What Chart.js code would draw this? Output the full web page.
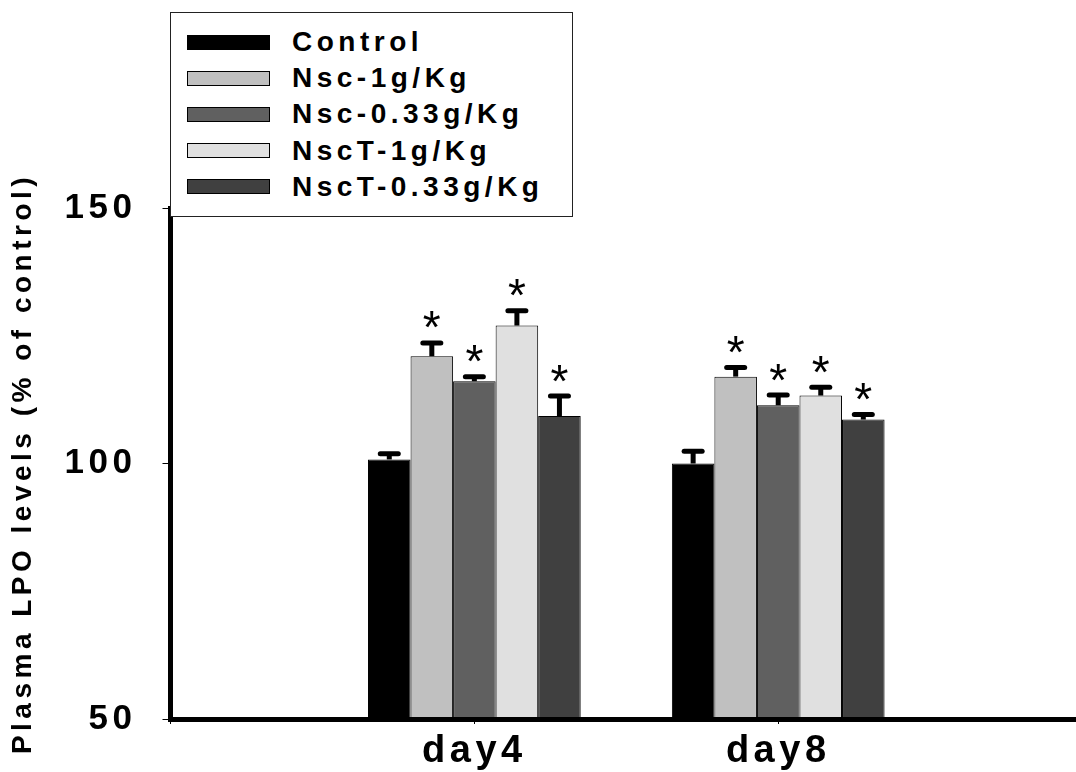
<!DOCTYPE html>
<html>
<head>
<meta charset="utf-8">
<script src="https://cdn.jsdelivr.net/npm/chart.js@4.4.1/dist/chart.umd.min.js"></script>
<style>
  body { margin: 0; background: #fff; }
  #wrap { position: relative; width: 1076px; height: 772px; }
  #legend {
    position: absolute; left: 170px; top: 12px; width: 403px; height: 205px;
    border: 1px solid #222; background: #fff; box-sizing: border-box;
  }
  .item { position: absolute; left: 16px; height: 36px; display: flex; align-items: center; }
  .swatch { width: 83px; height: 15px; border: 1px solid #000; box-sizing: border-box; }
  .label {
    margin-left: 22px; color: #000; white-space: nowrap;
    font: bold 28px "Liberation Sans", Arial, sans-serif; letter-spacing: 4.5px;
  }
</style>
</head>
<body>
<div id="wrap">
  <canvas id="lpoChart" width="1076" height="772"></canvas>
  <div id="legend"></div>
</div>
<script>
// data
const dayLabels = ['', 'day4', 'day8'];
const dayPositions = [0, 1, 2];
const yTicks = [50, 100, 150];
const groupNames = ['Control', 'Nsc-1g/Kg', 'Nsc-0.33g/Kg', 'NscT-1g/Kg', 'NscT-0.33g/Kg'];
const groupColors = ['#000000', '#c0c0c0', '#606060', '#e0e0e0', '#404040'];

const controlValues = [100.8, 100.0];
const nsc1Values = [121.0, 117.0];
const nsc033Values = [116.1, 111.4];
const nscT1Values = [127.0, 113.3];
const nscT033Values = [109.3, 108.6];

const controlErrors = [1.1, 2.4];
const nsc1Errors = [2.6, 1.8];
const nsc033Errors = [0.9, 2.0];
const nscT1Errors = [2.9, 1.6];
const nscT033Errors = [3.9, 1.0];

const controlStars = [false, false];
const nsc1Stars = [true, true];
const nsc033Stars = [true, true];
const nscT1Stars = [true, true];
const nscT033Stars = [true, true];

const fontFamily = '"Liberation Sans", Arial, sans-serif';
Chart.defaults.font.family = fontFamily;

function makeSet(i, values, errors, stars) {
  return {
    label: groupNames[i],
    data: values.map((v, k) => ({ x: dayPositions[k + 1], y: v })),
    errors: errors,
    stars: stars,
    backgroundColor: groupColors[i],
    borderColor: '#000',
    borderWidth: 1,
    categoryPercentage: 0.70,
    barPercentage: 1.0
  };
}

// the figure's text is spread out, so give the canvas some letter spacing
const spacing = {
  id: 'spacing',
  beforeUpdate(chart) { chart.ctx.letterSpacing = '4.5px'; },
  beforeDraw(chart) { chart.ctx.letterSpacing = '4.5px'; }
};

// upper error bars and significance stars
const errorBars = {
  id: 'errorBars',
  afterDatasetsDraw(chart) {
    const ctx = chart.ctx;
    const y = chart.scales.y;
    ctx.save();
    ctx.letterSpacing = '0px';
    ctx.strokeStyle = '#000';
    ctx.fillStyle = '#000';
    ctx.lineWidth = 5;
    ctx.font = '46px ' + fontFamily;
    ctx.textAlign = 'center';
    ctx.textBaseline = 'alphabetic';
    const m = ctx.measureText('*');
    const starShift = (m.actualBoundingBoxAscent - m.actualBoundingBoxDescent) / 2;
    chart.data.datasets.forEach((ds, d) => {
      chart.getDatasetMeta(d).data.forEach((bar, i) => {
        const top = y.getPixelForValue(ds.data[i].y + ds.errors[i]);
        ctx.lineCap = 'butt';
        ctx.beginPath();
        ctx.moveTo(bar.x, bar.y);
        ctx.lineTo(bar.x, top);
        ctx.stroke();
        ctx.lineCap = 'round';
        ctx.beginPath();
        ctx.moveTo(bar.x - 9, top);
        ctx.lineTo(bar.x + 9, top);
        ctx.stroke();
        if (ds.stars[i]) {
          ctx.fillText('*', bar.x, top - 23 + starShift);
        }
      });
    });
    ctx.restore();
  }
};

const ctx = document.getElementById('lpoChart').getContext('2d');
const lpoChart = new Chart(ctx, {
  type: 'bar',
  data: {
    datasets: [
      makeSet(0, controlValues, controlErrors, controlStars),
      makeSet(1, nsc1Values, nsc1Errors, nsc1Stars),
      makeSet(2, nsc033Values, nsc033Errors, nsc033Stars),
      makeSet(3, nscT1Values, nscT1Errors, nscT1Stars),
      makeSet(4, nscT033Values, nscT033Errors, nscT033Stars)
    ]
  },
  options: {
    responsive: false,
    animation: false,
    events: [],
    layout: { padding: { top: 208, left: 0, right: 0, bottom: 0 } },
    plugins: { legend: { display: false }, tooltip: { enabled: false } },
    scales: {
      x: {
        type: 'linear',
        min: 0,
        max: 2.98,
        offset: false,
        afterBuildTicks: axis => { axis.ticks = dayPositions.map(v => ({ value: v })); },
        afterFit: axis => { axis.height = 53; },
        ticks: {
          autoSkip: false,
          maxRotation: 0,
          padding: 5,
          color: '#000',
          font: { size: 38, weight: 'bold' },
          callback: (v, i) => dayLabels[i]
        },
        grid: { offset: false, drawOnChartArea: false, tickLength: 5, color: '#000', lineWidth: 1 },
        border: { width: 5, color: '#000', z: 1 }
      },
      y: {
        min: 50,
        max: 150,
        afterBuildTicks: axis => { axis.ticks = yTicks.map(v => ({ value: v })); },
        afterFit: axis => { axis.width = 170.5; },
        ticks: {
          padding: 26,
          color: '#000',
          font: { size: 35, weight: 'bold' }
        },
        grid: { drawOnChartArea: false, tickLength: 8, color: '#000', lineWidth: 1 },
        border: { width: 5, color: '#000', z: 1 },
        title: {
          display: true,
          text: 'Plasma LPO levels (% of control)',
          color: '#000',
          font: { size: 28, weight: 'bold' },
          padding: { top: 6, bottom: 0 }
        }
      }
    }
  },
  plugins: [spacing, errorBars]
});

// boxed legend built from the chart's datasets
const legendBox = document.getElementById('legend');
lpoChart.data.datasets.forEach((ds, i) => {
  const item = document.createElement('div');
  item.className = 'item';
  item.style.top = (11 + 36.2 * i) + 'px';
  const sw = document.createElement('span');
  sw.className = 'swatch';
  sw.style.background = ds.backgroundColor;
  const tx = document.createElement('span');
  tx.className = 'label';
  tx.textContent = ds.label;
  item.appendChild(sw);
  item.appendChild(tx);
  legendBox.appendChild(item);
});
</script>
</body>
</html>
